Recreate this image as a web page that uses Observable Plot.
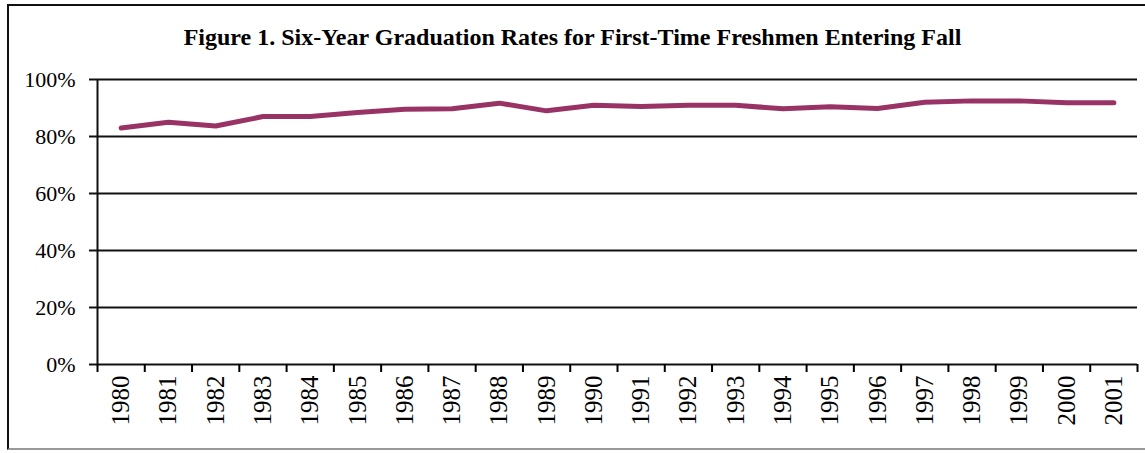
<!DOCTYPE html>
<html>
<head>
<meta charset="utf-8">
<script src="https://cdn.jsdelivr.net/npm/d3@7"></script>
<script src="https://cdn.jsdelivr.net/npm/@observablehq/plot@0.6"></script>
<style>
  html, body { margin: 0; padding: 0; background: #fff; }
  body { width: 1145px; height: 453px; position: relative; overflow: hidden; font-family: "Liberation Serif", "Times New Roman", serif; }
  #frame { position: absolute; left: 7px; top: 4px; width: 1160px; height: 446px; border-left: 2px solid #111; border-top: 2px solid #111; border-bottom: 2px solid #999; box-sizing: border-box; }
  #title { position: absolute; left: 0; width: 1145px; top: 24px; text-align: center; font-weight: bold; font-size: 24px; color: #000; line-height: 26px; }
  #chart { position: absolute; left: 0; top: 0; }
</style>
</head>
<body>
<div id="frame"></div>
<div id="title">Figure 1. Six-Year Graduation Rates for First-Time Freshmen Entering Fall</div>
<div id="chart"></div>
<script>
const years = ["1980","1981","1982","1983","1984","1985","1986","1987","1988","1989","1990","1991","1992","1993","1994","1995","1996","1997","1998","1999","2000","2001"];
const rates = [83, 85, 83.7, 87, 87, 88.4, 89.6, 89.7, 91.7, 89, 91, 90.5, 91, 91, 89.7, 90.4, 89.8, 92, 92.5, 92.5, 91.8, 91.8];
const yTicks = [0, 20, 40, 60, 80, 100];

const data = years.map((y, i) => ({year: y, idx: i + 0.5, rate: rates[i]}));
const bounds = d3.range(0, years.length + 1);
const centers = years.map((y, i) => i + 0.5);

const plot = Plot.plot({
  width: 1145,
  height: 453,
  marginLeft: 97,
  marginRight: 8,
  marginTop: 79,
  marginBottom: 89,
  style: {fontFamily: '"Liberation Serif", "Times New Roman", serif', background: "transparent", color: "#000"},
  x: {type: "linear", domain: [0, years.length]},
  y: {domain: [0, 100]},
  marks: [
    Plot.ruleY(yTicks, {stroke: "#111", strokeWidth: 2}),
    Plot.ruleX([0], {stroke: "#111", strokeWidth: 2}),
    Plot.axisY({ticks: yTicks, tickFormat: d => d + "%", tickSize: 8, tickPadding: 14, strokeWidth: 2, fontSize: 22, label: null, stroke: "#111"}),
    Plot.axisX({ticks: bounds, tickFormat: () => "", tickSize: 8, strokeWidth: 2, label: null}),
    Plot.axisX({ticks: centers, tickFormat: (d) => years[Math.round(d - 0.5)], tickSize: 0, tickPadding: 11, tickRotate: -90, fontSize: 25, label: null}),
    Plot.line(data, {x: "idx", y: "rate", stroke: "#993366", strokeWidth: 5, strokeLinecap: "round", strokeLinejoin: "round"})
  ]
});
document.getElementById("chart").appendChild(plot);
</script>
</body>
</html>
